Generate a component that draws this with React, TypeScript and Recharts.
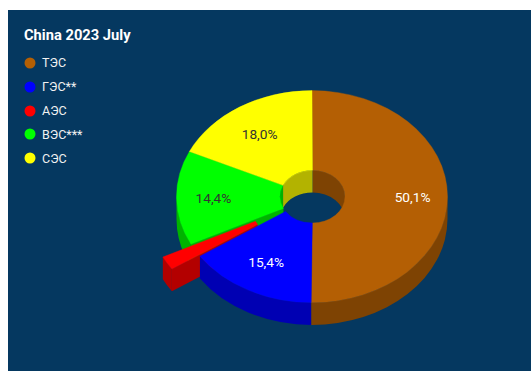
import React from 'react';
import { PieChart, Pie, Legend } from 'recharts';

const categories = ['ТЭС', 'ГЭС**', 'АЭС', 'ВЭС***', 'СЭС'];
const shares = [50.1, 15.4, 2.1, 14.4, 18.0];
const colors = ['#b45f04', '#0000ff', '#ff0000', '#00ff00', '#ffff00'];
const pulled = ['АЭС'];
const unlabelled = ['АЭС'];
const darkLabels = ['ВЭС***', 'СЭС'];
const title = 'China 2023 July';

const rows = categories.map((name, i) => ({ name, value: shares[i], fill: colors[i] }));

const FONT = 'Roboto, sans-serif';
const BG = '#053860';
const W = 523;
const H = 361;
const CX = 304;
const CY = 186.6;
const RX = 135.5;
const RY = 106;
const IN_RX = 32.5;
const IN_RY = 26.4;
const IN_DX = 0.5;
const DEPTH = 22.3;
const PULL = 0.24;
const DARK = 0.7;

const rad = (d: number) => (d * Math.PI) / 180;

function darken(hex: string) {
  const n = parseInt(hex.slice(1), 16);
  const c = [(n >> 16) & 255, (n >> 8) & 255, n & 255].map((v) => Math.round(v * DARK));
  return `rgb(${c[0]},${c[1]},${c[2]})`;
}

function geom(p: any) {
  const t1 = 90 - p.startAngle;
  const t2 = 90 - p.endAngle;
  const mid = rad((t1 + t2) / 2);
  const isPulled = pulled.includes(p.name ?? p.payload?.name);
  const ox = isPulled ? PULL * RX * Math.sin(mid) : 0;
  const oy = isPulled ? -PULL * RY * Math.cos(mid) : 0;
  const cx = p.cx + ox;
  const cy = p.cy + oy;
  const pt = (rx: number, ry: number, t: number, dy = 0) =>
    [cx + (rx === IN_RX ? IN_DX : 0) + rx * Math.sin(rad(t)), cy - ry * Math.cos(rad(t)) + dy] as const;
  const arc = (rx: number, ry: number, a: number, b: number, dy = 0) => {
    const [x, y] = pt(rx, ry, b, dy);
    return `A${rx} ${ry} 0 ${Math.abs(b - a) > 180 ? 1 : 0} ${b > a ? 1 : 0} ${x} ${y}`;
  };
  return { t1, t2, pt, arc, isPulled };
}

function TopFace(p: any) {
  const { t1, t2, pt, arc } = geom(p);
  const [ax, ay] = pt(RX, RY, t1);
  const [bx, by] = pt(IN_RX, IN_RY, t2);
  const d = `M${ax} ${ay}${arc(RX, RY, t1, t2)}L${bx} ${by}${arc(IN_RX, IN_RY, t2, t1)}Z`;
  return <path d={d} fill={p.fill} stroke={p.fill} strokeWidth={0.4} />;
}

function Walls(p: any) {
  const { t1, t2, pt, arc, isPulled } = geom(p);
  const shade = darken(p.fill);
  const parts: React.ReactNode[] = [];

  // outer wall: only the front half of the rim faces the viewer
  const a = Math.max(t1, 90);
  const b = Math.min(t2, 270);
  if (b > a) {
    const [x0, y0] = pt(RX, RY, a);
    const [x1, y1] = pt(RX, RY, b, DEPTH);
    parts.push(
      <path key="outer" fill={shade} d={`M${x0} ${y0}${arc(RX, RY, a, b)}L${x1} ${y1}${arc(RX, RY, b, a, DEPTH)}Z`} />
    );
  }

  // inner wall: only the back half of the hole faces the viewer
  const spans: [number, number][] = [
    [Math.max(t1, 270), Math.min(t2, 360)],
    [Math.max(t1, 0), Math.min(t2, 90)],
  ];
  spans.forEach(([s, e], i) => {
    if (e > s && !isPulled) {
      const [x0, y0] = pt(IN_RX, IN_RY, s);
      const [x1, y1] = pt(IN_RX, IN_RY, e, DEPTH);
      parts.push(
        <path key={`in${i}`} fill={shade} d={`M${x0} ${y0}${arc(IN_RX, IN_RY, s, e)}L${x1} ${y1}${arc(IN_RX, IN_RY, e, s, DEPTH)}Z`} />
      );
    }
  });

  // radial cut faces beside the pulled-out slice
  const cut = (t: number, key: string) => {
    const [ox0, oy0] = pt(RX, RY, t);
    const [ix0, iy0] = pt(IN_RX, IN_RY, t);
    parts.push(
      <path key={key} fill={shade} d={`M${ox0} ${oy0}L${ix0} ${iy0}L${ix0} ${iy0 + DEPTH}L${ox0} ${oy0 + DEPTH}Z`} />
    );
  };
  if (isPulled) cut(t1, 'cutStart');
  const prev = categories.indexOf(p.name ?? p.payload?.name) - 1;
  if (prev >= 0 && pulled.includes(categories[prev])) cut(t1, 'cutNext');

  return <g>{parts}</g>;
}

const layer = (names: string[]) => (p: any) =>
  names.includes(p.name ?? p.payload?.name) ? <Walls {...p} /> : <g />;

function sliceLabel(p: any) {
  const name = p.name ?? p.payload?.name;
  if (unlabelled.includes(name)) return null;
  const t = rad(p.midAngle);
  const x = p.cx + 1 + 0.735 * RX * Math.cos(t);
  const y = p.cy - 0.7 * RY * Math.sin(t);
  return (
    <text
      x={x}
      y={y}
      textAnchor="middle"
      dominantBaseline="central"
      fontFamily={FONT}
      fontSize={13.7}
      fill={darkLabels.includes(name) ? '#333333' : '#ffffff'}
    >
      {p.value.toFixed(1).replace('.', ',')}%
    </text>
  );
}

function LegendList(props: any) {
  const items = categories
    .map((c) => (props.payload ?? []).find((e: any) => e.value === c))
    .filter(Boolean);
  return (
    <div style={{ fontFamily: FONT, color: '#f2f2f2', fontSize: 12.5 }}>
      {items.map((e: any) => (
        <div key={e.value} style={{ display: 'flex', alignItems: 'center', height: 23.85 }}>
          <svg width={12} height={12} style={{ marginRight: 6, flex: 'none' }}>
            <circle cx={6} cy={6} r={5.5} fill={e.color} />
          </svg>
          <span>{e.value}</span>
        </div>
      ))}
    </div>
  );
}

const pieBase = {
  data: rows,
  dataKey: 'value',
  nameKey: 'name',
  cx: CX,
  cy: CY,
  innerRadius: IN_RX,
  outerRadius: RX,
  startAngle: 90,
  endAngle: -270,
  stroke: 'none',
  isAnimationActive: false,
  labelLine: false,
} as const;

export default function App() {
  return (
    <div style={{ position: 'absolute', left: 8, top: 10, width: W, height: H, background: BG, overflow: 'hidden' }}>
      <div
        style={{
          position: 'absolute',
          left: 16,
          top: 16,
          fontFamily: FONT,
          fontWeight: 700,
          fontSize: 14.7,
          lineHeight: '18px',
          color: '#ffffff',
        }}
      >
        {title}
      </div>
      <PieChart width={W} height={H} margin={{ top: 0, right: 0, bottom: 0, left: 0 }}>
        <Legend
          layout="vertical"
          align="center"
          verticalAlign="middle"
          itemSorter={null}
          content={<LegendList />}
          wrapperStyle={{ left: 16, top: 41, width: 100 }}
        />
        <Pie {...pieBase} legendType="none" shape={layer(['ТЭС', 'ВЭС***', 'СЭС'])} />
        <Pie {...pieBase} legendType="none" shape={layer(['АЭС'])} />
        <Pie {...pieBase} legendType="none" shape={layer(['ГЭС**'])} />
        <Pie {...pieBase} shape={TopFace} label={sliceLabel} />
      </PieChart>
    </div>
  );
}
